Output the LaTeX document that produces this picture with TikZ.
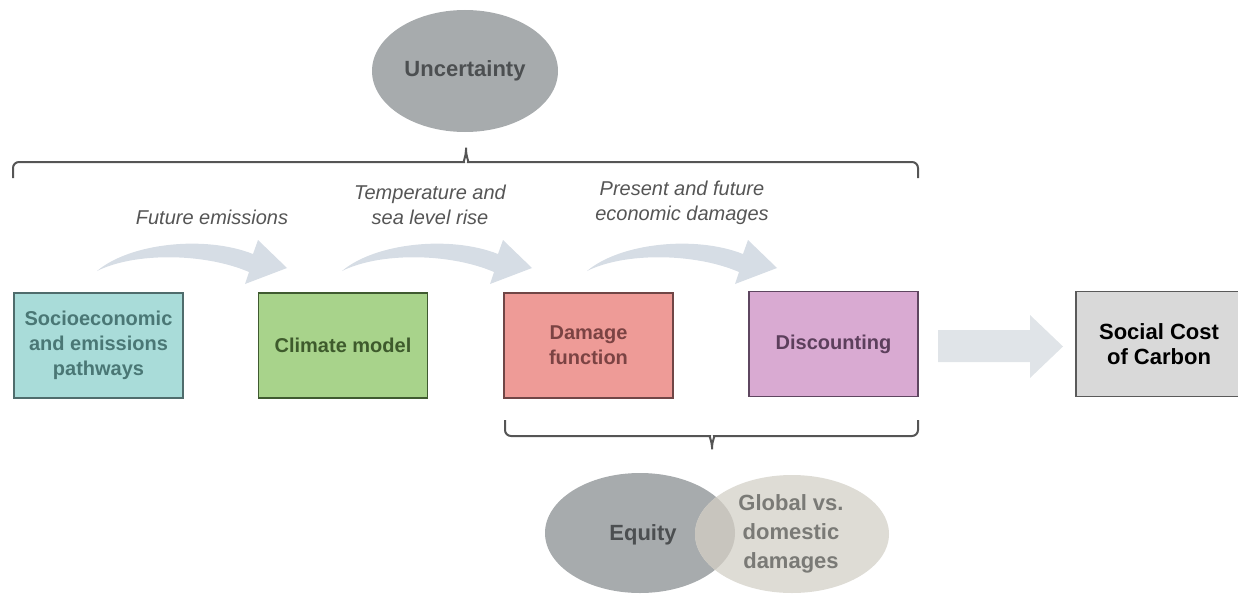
\documentclass[tikz,border=0pt]{standalone}
\usepackage{fontspec}
\setmainfont{Liberation Sans}
\definecolor{tealfill}{HTML}{A9DCD9}
\definecolor{tealline}{HTML}{4F6C6C}
\definecolor{tealtext}{HTML}{4A7775}
\definecolor{grnfill}{HTML}{A8D38B}
\definecolor{grnline}{HTML}{3F5A30}
\definecolor{grntext}{HTML}{3E5A2C}
\definecolor{redfill}{HTML}{EE9B97}
\definecolor{redline}{HTML}{704646}
\definecolor{redtext}{HTML}{7B4343}
\definecolor{pinkfill}{HTML}{D9AAD2}
\definecolor{pinkline}{HTML}{5E4660}
\definecolor{pinktext}{HTML}{5C3F5C}
\definecolor{sccfill}{HTML}{D9D9D9}
\definecolor{sccline}{HTML}{5A5A5A}
\definecolor{ellgray}{HTML}{A7ABAD}
\definecolor{ellbeige}{HTML}{DEDCD5}
\definecolor{ellover}{HTML}{C8C5BE}
\definecolor{ellgtext}{HTML}{4C4F51}
\definecolor{ellbtext}{HTML}{7A7A76}
\definecolor{labtext}{HTML}{555555}
\definecolor{bracecol}{HTML}{555555}
\definecolor{curvecol}{HTML}{D6DDE5}
\definecolor{bigarrow}{HTML}{E0E4E8}
\begin{document}
\begin{tikzpicture}[x=1pt,y=-1pt,
  box/.style={draw, line width=1.6pt, minimum width=169pt, minimum height=105pt,
    inner sep=0pt, align=center, font=\fontsize{20}{25}\selectfont\bfseries},
  lab/.style={align=center, text=labtext, inner sep=0pt,
    font=\fontsize{20}{25}\selectfont\itshape},
  elltext/.style={align=center, inner sep=0pt,
    font=\fontsize{22}{28}\selectfont\bfseries},
  bracestyle/.style={draw=bracecol, line width=2pt, rounded corners=6pt},
  fatcurve/.style={fill=curvecol}
]
\useasboundingbox (0,0) rectangle (1238,594);

% Uncertainty ellipse
\fill[ellgray] (465,71) ellipse [x radius=93, y radius=61];
\node[elltext, text=ellgtext] (unc) at (465,71) {Uncertainty};

% top brace
\draw[bracestyle] (13,178) -- (13,162) -- (458,162)
  .. controls (463,162) and (466,156) .. (466,144)
  .. controls (466,156) and (469,162) .. (474,162) -- (918,162) -- (918,178);

% labels
\node[lab] (lfe) at (212,217) {Future emissions};
\node[lab] (ltemp) at (430,204.5) {Temperature and\\sea level rise};
\node[lab] (lpres) at (682,202.5) {Present and future\\economic damages};

% curved fat arrows
\foreach \dx in {0,245,490}{
  \fill[fatcurve, xshift=\dx pt] (97,271) .. controls (130,243) and (205,235) .. (253,254)
    -- (258,240) -- (287,268) -- (245,284) -- (249,272)
    .. controls (205,253) and (135,252) .. (97,271) -- cycle;
}

% boxes
\node[box, fill=tealfill, draw=tealline, text=tealtext] (soc) at (98.5,345.5)
  {Socioeconomic\\and emissions\\pathways};
\node[box, fill=grnfill, draw=grnline, text=grntext] (clim) at (343,345.5) {Climate model};
\node[box, fill=redfill, draw=redline, text=redtext] (dmg) at (588.5,345.5) {Damage\\function};
\node[box, fill=pinkfill, draw=pinkline, text=pinktext] (disc) at (833.5,344) {Discounting};
\node[box, fill=sccfill, draw=sccline, text=black, minimum width=166pt,
  font=\fontsize{22}{25}\selectfont\bfseries] (scc) at (1159,344) {Social Cost\\of Carbon};

% straight fat arrow
\fill[bigarrow] (938,330) -- (1030,330) -- (1030,315) -- (1063,346.5)
  -- (1030,378) -- (1030,362) -- (938,362) -- cycle;

% bottom brace
\draw[bracestyle] (505,420) -- (505,436) -- (704,436)
  .. controls (709,436) and (712,442) .. (712,453)
  .. controls (712,442) and (715,436) .. (720,436) -- (918,436) -- (918,420);

% equity / global ellipses
\fill[ellgray] (640,533) ellipse [x radius=95, y radius=60];
\fill[ellbeige] (792,534) ellipse [x radius=97, y radius=59];
\begin{scope}
  \clip (640,533) ellipse [x radius=95, y radius=60];
  \fill[ellover] (792,534) ellipse [x radius=97, y radius=59];
\end{scope}
\node[elltext, text=ellgtext] (eq) at (643,535) {Equity};
\node[elltext, text=ellbtext, font=\fontsize{22}{29}\selectfont\bfseries] (gl) at (791,534)
  {Global vs.\\domestic\\damages};
\end{tikzpicture}
\end{document}
